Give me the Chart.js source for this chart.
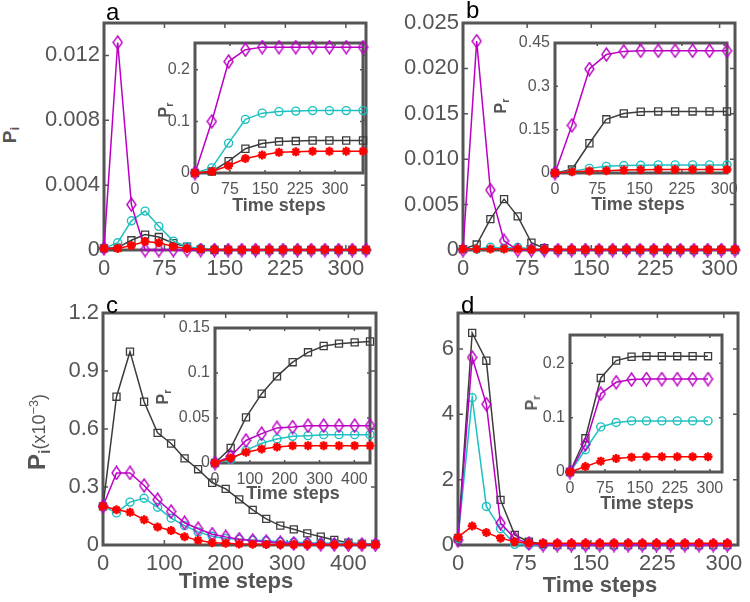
<!DOCTYPE html>
<html>
<head>
<meta charset="utf-8">
<script src="https://cdn.jsdelivr.net/npm/chart.js@4"></script>
<style>
  body { margin: 0; width: 750px; height: 602px; background: #fff; position: relative; overflow: hidden; font-family: 'Liberation Sans', Arial, sans-serif; }
  .lbl { position: absolute; white-space: nowrap; line-height: 1; color: #555; }
  .rot { transform: translate(-50%, -50%) rotate(-90deg); }
  .ctr { transform: translate(-50%, -50%); }
  .panel { position: absolute; color: #000; font-size: 24px; line-height: 1; }
  sub { font-size: 0.68em; vertical-align: -0.3em; }
  sup { font-size: 0.7em; vertical-align: 0.55em; }
</style>
</head>
<body>
<div class="panel" style="left:106px;top:0px">a</div>
<div class="panel" style="left:466px;top:-2px">b</div>
<div class="panel" style="left:106px;top:293px">c</div>
<div class="panel" style="left:461px;top:293px">d</div>

<div class="lbl rot" style="left:11px;top:135px;font-weight:bold;font-size:19px">P<sub>i</sub></div>
<div class="lbl rot" style="left:39px;top:432px;font-weight:bold;font-size:24px">P<sub>i</sub><span style="font-weight:normal;font-size:18px">(x10<sup>&minus;3</sup>)</span></div>
<div class="lbl ctr" style="left:236px;top:581px;font-weight:bold;font-size:22px">Time steps</div>
<div class="lbl ctr" style="left:600px;top:585px;font-weight:bold;font-size:22px">Time steps</div>

<div class="lbl ctr" style="left:279px;top:205px;font-weight:bold;font-size:18px">Time steps</div>
<div class="lbl ctr" style="left:638px;top:204px;font-weight:bold;font-size:18px">Time steps</div>
<div class="lbl ctr" style="left:293px;top:493px;font-weight:bold;font-size:18px">Time steps</div>
<div class="lbl ctr" style="left:647px;top:503px;font-weight:bold;font-size:18px">Time steps</div>

<div class="lbl rot" style="left:166px;top:110px;font-weight:bold;font-size:16px">P<sub>r</sub></div>
<div class="lbl rot" style="left:502px;top:106px;font-weight:bold;font-size:16px">P<sub>r</sub></div>
<div class="lbl rot" style="left:164px;top:397px;font-weight:bold;font-size:16px">P<sub>r</sub></div>
<div class="lbl rot" style="left:533px;top:403px;font-weight:bold;font-size:16px">P<sub>r</sub></div>

<script>
// ---- panel a ----
const tA = [0, 17, 34, 51, 68, 86, 103, 120, 137, 154, 171, 188, 205, 222, 240, 257, 274, 291, 308, 325];
const aRed = [0.0001, 0.0001, 0.00028, 0.00052, 0.00045, 0.00022, 0.0001, 0.00005, 0.00003, 0.00002, 0.00002, 0.00002, 0.00002, 0.00002, 0.00002, 0.00002, 0.00002, 0.00002, 0.00002, 0.00002];
const aMag = [0.0001, 0.0128, 0.0028, 0, 0, 0, 0, 0, 0, 0, 0, 0, 0, 0, 0, 0, 0, 0, 0, 0];
const aCyan = [0.0001, 0.00045, 0.0018, 0.0024, 0.00146, 0.00055, 0.0002, 0.0001, 0.00005, 0, 0, 0, 0, 0, 0, 0, 0, 0, 0, 0];
const aBlack = [0.0001, 0.00015, 0.0006, 0.00095, 0.0008, 0.00042, 0.0002, 0.00005, 0, 0, 0, 0, 0, 0, 0, 0, 0, 0, 0, 0];

const tAi = [0, 36, 72, 108, 144, 180, 216, 252, 288, 324, 360];
const aiRed = [0, 0.003, 0.014, 0.028, 0.035, 0.04, 0.041, 0.042, 0.042, 0.042, 0.042];
const aiMag = [0, 0.1, 0.216, 0.239, 0.244, 0.244, 0.244, 0.244, 0.244, 0.244, 0.244];
const aiCyan = [0, 0.01, 0.058, 0.104, 0.116, 0.119, 0.12, 0.121, 0.121, 0.121, 0.121];
const aiBlack = [0, 0.003, 0.023, 0.047, 0.057, 0.061, 0.062, 0.063, 0.063, 0.063, 0.063];

// ---- panel b ----
const tB = [0, 16, 32, 48, 64, 80, 95, 111, 127, 143, 159, 175, 191, 207, 223, 239, 254, 270, 286, 302, 318];
const bRed = [0.0001, 0.0001, 0.0001, 0.0001, 0.0001, 0.00005, 0.00005, 0.00005, 0.00005, 0.00005, 0.00005, 0.00005, 0.00005, 0.00005, 0.00005, 0.00005, 0.00005, 0.00005, 0.00005, 0.00005, 0.00005];
const bMag = [0, 0.023, 0.0066, 0.001, 0, 0, 0, 0, 0, 0, 0, 0, 0, 0, 0, 0, 0, 0, 0, 0, 0];
const bCyan = [0.0001, 0.0001, 0.0003, 0.0002, 0.0003, 0.0001, 0, 0, 0, 0, 0, 0, 0, 0, 0, 0, 0, 0, 0, 0, 0];
const bBlack = [0.0001, 0.0006, 0.0034, 0.0056, 0.0037, 0.0008, 0.0002, 0, 0, 0, 0, 0, 0, 0, 0, 0, 0, 0, 0, 0, 0];

const tBi = [0, 30, 61, 91, 122, 152, 183, 213, 244, 274, 305];
const biRed = [0, 0.004, 0.007, 0.008, 0.01, 0.011, 0.012, 0.012, 0.012, 0.012, 0.012];
const biMag = [0, 0.165, 0.36, 0.41, 0.421, 0.423, 0.423, 0.423, 0.423, 0.423, 0.423];
const biCyan = [0, 0.006, 0.016, 0.023, 0.026, 0.027, 0.028, 0.028, 0.028, 0.028, 0.028];
const biBlack = [0, 0.012, 0.103, 0.186, 0.206, 0.212, 0.213, 0.213, 0.213, 0.213, 0.213];

// ---- panel c (x10^-3) ----
const tC = [0, 22, 44, 67, 89, 111, 133, 155, 178, 200, 222, 244, 266, 289, 311, 333, 355, 377, 400, 422, 444];
const cRed = [0.2, 0.182, 0.169, 0.131, 0.093, 0.075, 0.043, 0.024, 0.012, 0.009, 0.005, 0.004, 0.003, 0.002, 0.002, 0.002, 0.002, 0.002, 0.002, 0.002, 0.002];
const cMag = [0.2, 0.373, 0.373, 0.308, 0.234, 0.173, 0.115, 0.084, 0.056, 0.042, 0.03, 0.022, 0.017, 0.012, 0.008, 0.006, 0.004, 0.003, 0.002, 0.002, 0.002];
const cCyan = [0.2, 0.166, 0.222, 0.242, 0.195, 0.139, 0.1, 0.068, 0.045, 0.034, 0.03, 0.026, 0.022, 0.017, 0.014, 0.012, 0.01, 0.009, 0.008, 0.007, 0.006];
const cBlack = [0.2, 0.767, 1.0, 0.741, 0.58, 0.525, 0.448, 0.392, 0.322, 0.29, 0.236, 0.182, 0.135, 0.1, 0.081, 0.06, 0.043, 0.026, 0.012, 0.005, 0.005];

const tCi = [0, 45, 89, 134, 178, 223, 267, 312, 356, 401, 445];
const ciRed = [0, 0.0056, 0.0119, 0.0156, 0.0178, 0.0193, 0.0193, 0.0193, 0.0193, 0.0193, 0.0193];
const ciMag = [0, 0.0074, 0.025, 0.0326, 0.039, 0.04, 0.0415, 0.0415, 0.0415, 0.0415, 0.0415];
const ciCyan = [0, 0.0037, 0.014, 0.022, 0.0267, 0.0296, 0.0304, 0.0315, 0.0315, 0.0315, 0.0315];
const ciBlack = [0, 0.0167, 0.0507, 0.077, 0.0963, 0.112, 0.123, 0.13, 0.1326, 0.134, 0.135];

// ---- panel d ----
const tD = [0, 16, 32, 48, 64, 80, 96, 112, 128, 144, 160, 176, 192, 208, 224, 240, 256, 272, 288, 304];
const dRed = [0.24, 0.58, 0.38, 0.21, 0.1, 0.06, 0.05, 0.05, 0.05, 0.05, 0.05, 0.05, 0.05, 0.05, 0.05, 0.05, 0.05, 0.05, 0.05, 0.05];
const dMag = [0.15, 5.74, 4.31, 0.67, 0.2, 0.05, 0, 0, 0, 0, 0, 0, 0, 0, 0, 0, 0, 0, 0, 0];
const dCyan = [0.2, 4.51, 1.18, 0.5, 0.02, 0, 0, 0, 0, 0, 0, 0, 0, 0, 0, 0, 0, 0, 0, 0];
const dBlack = [0.2, 6.49, 5.64, 1.38, 0.31, 0.1, 0.03, 0, 0, 0, 0, 0, 0, 0, 0, 0, 0, 0, 0, 0];

const tDi = [0, 33, 66, 99, 132, 164, 197, 230, 263, 296];
const diRed = [0, 0.01, 0.02, 0.025, 0.027, 0.028, 0.028, 0.028, 0.028, 0.028];
const diMag = [0, 0.051, 0.144, 0.165, 0.17, 0.171, 0.171, 0.171, 0.171, 0.171];
const diCyan = [0, 0.041, 0.083, 0.091, 0.094, 0.094, 0.094, 0.094, 0.094, 0.094];
const diBlack = [0, 0.062, 0.173, 0.205, 0.212, 0.213, 0.213, 0.213, 0.213, 0.213];

// ---- ticks ----
const xTicks300 = [0, 75, 150, 225, 300];
const xTicks400 = [0, 100, 200, 300, 400];
const yTicksA = [0, 0.004, 0.008, 0.012], yLabelsA = ['0', '0.004', '0.008', '0.012'];
const yTicksB = [0, 0.005, 0.01, 0.015, 0.02, 0.025], yLabelsB = ['0', '0.005', '0.010', '0.015', '0.020', '0.025'];
const yTicksC = [0, 0.3, 0.6, 0.9, 1.2], yLabelsC = ['0', '0.3', '0.6', '0.9', '1.2'];
const yTicksD = [0, 2, 4, 6], yLabelsD = ['0', '2', '4', '6'];
const yTicksAi = [0, 0.1, 0.2], yLabelsAi = ['0', '0.1', '0.2'];
const yTicksBi = [0, 0.15, 0.3, 0.45], yLabelsBi = ['0', '0.15', '0.3', '0.45'];
const yTicksCi = [0, 0.05, 0.1, 0.15], yLabelsCi = ['0', '0.05', '0.1', '0.15'];
const yTicksDi = [0, 0.1, 0.2], yLabelsDi = ['0', '0.1', '0.2'];

const RED = '#ff0000', MAG = '#bb00c4', CYAN = '#1ec0c0', BLACK = '#3c3c3c', AXIS = '#555';
const FONT = "'Liberation Sans', Arial, sans-serif";

// tall hollow diamond marker
let diamond = document.createElement('canvas');
diamond.width = 11; diamond.height = 15;
let dctx = diamond.getContext('2d');
dctx.strokeStyle = MAG; dctx.lineWidth = 1.4;
dctx.beginPath();
dctx.moveTo(5.5, 1); dctx.lineTo(10, 7.5); dctx.lineTo(5.5, 14); dctx.lineTo(1, 7.5); dctx.closePath();
dctx.stroke();

let frame = {
    id: 'frame',
    beforeDraw(chart, args, opts) {
        if (!opts.fill) return;
        let a = chart.chartArea, ctx = chart.ctx;
        ctx.save();
        ctx.fillStyle = '#fff';
        ctx.fillRect(a.left, a.top, a.right - a.left, a.bottom - a.top);
        ctx.restore();
    },
    beforeDatasetsDraw(chart, args, opts) {
        let a = chart.chartArea, ctx = chart.ctx, x = chart.scales.x, y = chart.scales.y;
        let tl = opts.tick;
        ctx.save();
        ctx.strokeStyle = AXIS;
        ctx.lineWidth = 1.5;
        ctx.beginPath();
        x.ticks.forEach(t => {
            let px = x.getPixelForValue(t.value);
            ctx.moveTo(px, a.bottom); ctx.lineTo(px, a.bottom - tl);
            ctx.moveTo(px, a.top); ctx.lineTo(px, a.top + tl);
        });
        y.ticks.forEach(t => {
            let py = y.getPixelForValue(t.value);
            ctx.moveTo(a.left, py); ctx.lineTo(a.left + tl, py);
            ctx.moveTo(a.right, py); ctx.lineTo(a.right - tl, py);
        });
        ctx.stroke();
        ctx.lineWidth = 3;
        ctx.strokeRect(a.left, a.top, a.right - a.left, a.bottom - a.top);
        ctx.restore();
    }
};

function ds(time, vals, color, style, r, bw) {
    return {
        data: vals.map((v, i) => ({ x: time[i], y: v })),
        borderColor: color,
        backgroundColor: 'rgba(0,0,0,0)',
        borderWidth: 1.5,
        pointStyle: style,
        pointRadius: r,
        pointBorderWidth: bw,
        pointBorderColor: color,
        pointBackgroundColor: 'rgba(0,0,0,0)',
        tension: 0,
        clip: false
    };
}

function series(time, red, mag, cyan, black) {
    return [
        ds(time, red, RED, 'star', 4.5, 2.4),
        ds(time, mag, MAG, diamond, 5, 1.4),
        ds(time, cyan, CYAN, 'circle', 4, 1.4),
        ds(time, black, BLACK, 'rect', 5, 1.3)
    ];
}

function makeChart(box, datasets, xMax, xTicks, yMax, yTicks, yLabels, inset) {
    const padT = 20, padR = 25;
    const padL = inset ? 45 : 80, padB = inset ? 30 : 40;
    const w = box.R - box.L + padL + padR, h = box.B - box.T + padT + padB;
    let c = document.createElement('canvas');
    c.width = w; c.height = h;
    c.style.cssText = `position:absolute;left:${box.L - padL}px;top:${box.T - padT}px;width:${w}px;height:${h}px`;
    document.body.appendChild(c);
    const fs = inset ? 16 : 22;
    return new Chart(c.getContext('2d'), {
        type: 'line',
        data: { datasets },
        plugins: [frame],
        options: {
            responsive: false,
            animation: false,
            devicePixelRatio: 1,
            layout: { autoPadding: false, padding: { top: padT, right: padR, left: 0, bottom: 0 } },
            plugins: {
                legend: { display: false },
                tooltip: { enabled: false },
                frame: { fill: inset, tick: inset ? 3 : 5 }
            },
            scales: {
                x: {
                    type: 'linear', min: 0, max: xMax,
                    grid: { display: false, drawTicks: false },
                    border: { display: false },
                    ticks: { color: AXIS, font: { size: fs, family: FONT }, padding: inset ? 7 : 6, maxRotation: 0, autoSkip: false },
                    afterBuildTicks: s => { s.ticks = xTicks.map(v => ({ value: v })); },
                    afterFit: s => { s.height = padB; }
                },
                y: {
                    type: 'linear', min: 0, max: yMax,
                    grid: { display: false, drawTicks: false },
                    border: { display: false },
                    ticks: { color: AXIS, font: { size: fs, family: FONT }, padding: inset ? 5 : 4, autoSkip: false, callback: (v, i) => yLabels[i] },
                    afterBuildTicks: s => { s.ticks = yTicks.map(v => ({ value: v })); },
                    afterFit: s => { s.width = padL; }
                }
            }
        }
    });
}

makeChart({ L: 104, R: 366, T: 23, B: 250 }, series(tA, aRed, aMag, aCyan, aBlack), 325, xTicks300, 0.014, yTicksA, yLabelsA, false);
makeChart({ L: 463, R: 735, T: 23, B: 250 }, series(tB, bRed, bMag, bCyan, bBlack), 318, xTicks300, 0.025, yTicksB, yLabelsB, false);
makeChart({ L: 103, R: 376, T: 313, B: 545 }, series(tC, cRed, cMag, cCyan, cBlack), 445, xTicks400, 1.2, yTicksC, yLabelsC, false);
makeChart({ L: 458, R: 738, T: 313, B: 545 }, series(tD, dRed, dMag, dCyan, dBlack), 316, xTicks300, 7.1, yTicksD, yLabelsD, false);

makeChart({ L: 195, R: 363, T: 43, B: 173 }, series(tAi, aiRed, aiMag, aiCyan, aiBlack), 360, xTicks300, 0.252, yTicksAi, yLabelsAi, true);
makeChart({ L: 555, R: 727, T: 43, B: 173 }, series(tBi, biRed, biMag, biCyan, biBlack), 305, xTicks300, 0.45, yTicksBi, yLabelsBi, true);
makeChart({ L: 215, R: 370, T: 328, B: 463 }, series(tCi, ciRed, ciMag, ciCyan, ciBlack), 445, xTicks400, 0.15, yTicksCi, yLabelsCi, true);
makeChart({ L: 570, R: 722, T: 335, B: 472 }, series(tDi, diRed, diMag, diCyan, diBlack), 326, xTicks300, 0.252, yTicksDi, yLabelsDi, true);

// move the text labels above the canvases
document.querySelectorAll('.lbl, .panel').forEach(el => { el.style.zIndex = 5; });
</script>
</body>
</html>
